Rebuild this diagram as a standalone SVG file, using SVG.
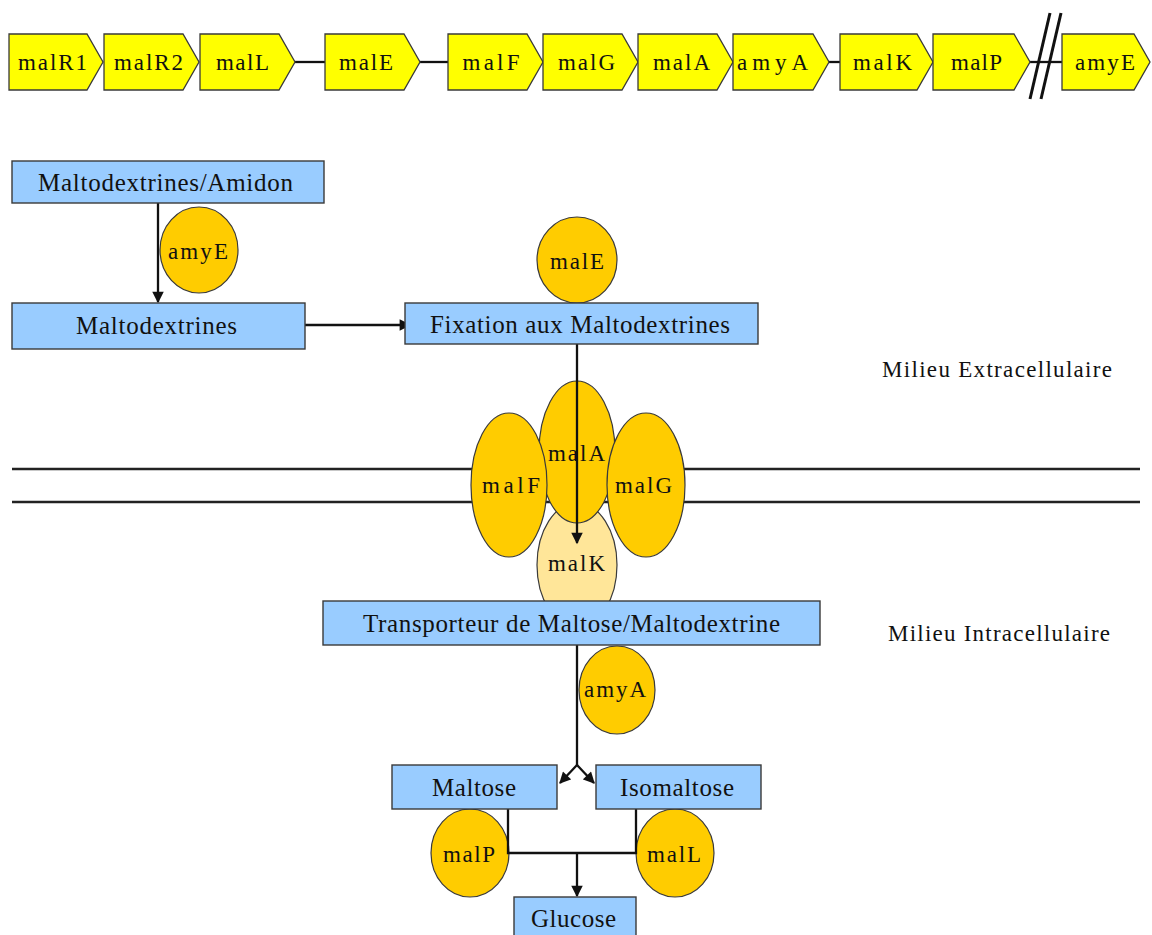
<svg xmlns="http://www.w3.org/2000/svg" width="1152" height="935" viewBox="0 0 1152 935">
  <style>
    .gene { fill: #FFFF00; stroke: #3a3a3a; stroke-width: 1.3; }
    .box { fill: #99CCFF; stroke: #3a3a3a; stroke-width: 1.4; }
    .enz { fill: #FFCC00; stroke: #3a3a3a; stroke-width: 1.2; }
    .enz-light { fill: #FFE699; stroke: #3a3a3a; stroke-width: 1.2; }
    .lbl { font-family: "Liberation Serif", "Times New Roman", serif; fill: #111; text-anchor: middle; }
    .g { font-size: 23px; }
    .b { font-size: 25px; }
    .e { font-size: 23px; }
    .m { font-size: 23px; }
    .wire { fill: none; stroke: #111; stroke-width: 2.3; }
    .arrow { fill: none; stroke: #111; stroke-width: 2.3; marker-end: url(#head); }
    .mem { stroke: #222; stroke-width: 2.6; }
  </style>
  <defs>
    <marker id="head" viewBox="0 0 10 10" refX="9" refY="5" markerWidth="5.5" markerHeight="5" orient="auto" markerUnits="strokeWidth">
      <path d="M0,0 L10,5 L0,10 z" fill="#111"/>
    </marker>
  </defs>

  <rect width="1152" height="935" fill="#ffffff"/>

  <!-- operon backbone -->
  <g id="operon-links">
    <line class="wire" x1="295" y1="62" x2="325" y2="62"/>
    <line class="wire" x1="420" y1="62" x2="448" y2="62"/>
    <line class="wire" x1="829" y1="62" x2="840" y2="62"/>
    <line class="wire" x1="1030" y1="62" x2="1062" y2="62"/>
    <line x1="1030" y1="99" x2="1050" y2="13" stroke="#111" stroke-width="3"/>
    <line x1="1041" y1="99" x2="1061" y2="13" stroke="#111" stroke-width="3"/>
  </g>

  <!-- genes -->
  <g id="gene-malR1"><polygon class="gene" points="9,34 87,34 103,62 87,90 9,90"/><text class="lbl g" x="52.5" y="70" textLength="69">malR1</text></g>
  <g id="gene-malR2"><polygon class="gene" points="104,34 183,34 199,62 183,90 104,90"/><text class="lbl g" x="148.5" y="70" textLength="69">malR2</text></g>
  <g id="gene-malL"><polygon class="gene" points="200,34 279,34 295,62 279,90 200,90"/><text class="lbl g" x="242.5" y="70" textLength="53">malL</text></g>
  <g id="gene-malE"><polygon class="gene" points="325,34 404,34 420,62 404,90 325,90"/><text class="lbl g" x="366" y="70" textLength="54">malE</text></g>
  <g id="gene-malF"><polygon class="gene" points="448,34 527,34 543,62 527,90 448,90"/><text class="lbl g" x="491" y="70" textLength="57">malF</text></g>
  <g id="gene-malG"><polygon class="gene" points="543,34 622,34 638,62 622,90 543,90"/><text class="lbl g" x="586.5" y="70" textLength="57">malG</text></g>
  <g id="gene-malA"><polygon class="gene" points="638,34 717,34 733,62 717,90 638,90"/><text class="lbl g" x="681.5" y="70" textLength="57">malA</text></g>
  <g id="gene-amyA"><polygon class="gene" points="733,34 813,34 829,62 813,90 733,90"/><text class="lbl g" x="772.5" y="70" textLength="71">amyA</text></g>
  <g id="gene-malK"><polygon class="gene" points="840,34 917,34 933,62 917,90 840,90"/><text class="lbl g" x="882.5" y="70" textLength="59">malK</text></g>
  <g id="gene-malP"><polygon class="gene" points="933,34 1014,34 1030,62 1014,90 933,90"/><text class="lbl g" x="976.5" y="70" textLength="51">malP</text></g>
  <g id="gene-amyE"><polygon class="gene" points="1062,34 1134,34 1150,62 1134,90 1062,90"/><text class="lbl g" x="1105" y="70" textLength="60">amyE</text></g>

  <!-- membrane -->
  <g id="membrane">
    <line class="mem" x1="12" y1="469" x2="1140" y2="469"/>
    <line class="mem" x1="12" y1="502" x2="1140" y2="502"/>
  </g>

  <!-- transporter complex -->
  <g id="enz-malK"><ellipse class="enz-light" cx="577" cy="565" rx="40" ry="62"/><text class="lbl e" x="576.5" y="571" textLength="57">malK</text></g>
  <g id="enz-malA"><ellipse class="enz" cx="577" cy="452" rx="38" ry="71"/><text class="lbl e" x="576.5" y="461" textLength="57">malA</text></g>
  <g id="enz-malF"><ellipse class="enz" cx="509" cy="485" rx="38" ry="72"/><text class="lbl e" x="511" y="493" textLength="58">malF</text></g>
  <g id="enz-malG"><ellipse class="enz" cx="646" cy="485" rx="39" ry="72"/><text class="lbl e" x="643.5" y="493" textLength="57">malG</text></g>

  <!-- other enzymes -->
  <g id="enz-amyE"><ellipse class="enz" cx="199" cy="250" rx="39" ry="43"/><text class="lbl e" x="198" y="259" textLength="60">amyE</text></g>
  <g id="enz-malE"><ellipse class="enz" cx="577" cy="260" rx="40" ry="43"/><text class="lbl e" x="577" y="269" textLength="54">malE</text></g>
  <g id="enz-amyA"><ellipse class="enz" cx="617" cy="690" rx="38" ry="44"/><text class="lbl e" x="615" y="697" textLength="62">amyA</text></g>
  <g id="enz-malP"><ellipse class="enz" cx="470" cy="853" rx="39" ry="44"/><text class="lbl e" x="469" y="862" textLength="52">malP</text></g>
  <g id="enz-malL"><ellipse class="enz" cx="675" cy="853" rx="39" ry="44"/><text class="lbl e" x="674" y="862" textLength="54">malL</text></g>

  <!-- connectors -->
  <g id="connectors">
    <line class="arrow" x1="158" y1="203" x2="158" y2="302"/>
    <line class="arrow" x1="305" y1="325" x2="410" y2="325"/>
    <line class="arrow" x1="577" y1="344" x2="577" y2="543"/>
    <polyline class="wire" points="577,645 577,765"/>
    <line class="arrow" x1="577" y1="765" x2="560" y2="783"/>
    <line class="arrow" x1="577" y1="765" x2="594" y2="783"/>
    <polyline class="wire" points="508,809 508,853 636,853 636,809"/>
    <line class="arrow" x1="577" y1="853" x2="577" y2="896"/>
  </g>

  <!-- metabolite boxes -->
  <g id="box-amidon"><rect class="box" x="12" y="161" width="312" height="42"/><text class="lbl b" x="165.5" y="191" textLength="255">Maltodextrines/Amidon</text></g>
  <g id="box-maltodextrines"><rect class="box" x="12" y="303" width="293" height="46"/><text class="lbl b" x="156.5" y="334" textLength="161">Maltodextrines</text></g>
  <g id="box-fixation"><rect class="box" x="405" y="303" width="353" height="41"/><text class="lbl b" x="580" y="333" textLength="300">Fixation aux Maltodextrines</text></g>
  <g id="box-transporteur"><rect class="box" x="323" y="601" width="497" height="44"/><text class="lbl b" x="571.5" y="632" textLength="417">Transporteur de Maltose/Maltodextrine</text></g>
  <g id="box-maltose"><rect class="box" x="392" y="765" width="165" height="44"/><text class="lbl b" x="474" y="796" textLength="84">Maltose</text></g>
  <g id="box-isomaltose"><rect class="box" x="596" y="765" width="165" height="44"/><text class="lbl b" x="677" y="796" textLength="114">Isomaltose</text></g>
  <g id="box-glucose"><rect class="box" x="514" y="897" width="122" height="44"/><text class="lbl b" x="573.5" y="927" textLength="85">Glucose</text></g>

  <!-- compartment labels -->
  <g id="label-extra"><text class="lbl m" x="997" y="377" textLength="230">Milieu Extracellulaire</text></g>
  <g id="label-intra"><text class="lbl m" x="999" y="641" textLength="222">Milieu Intracellulaire</text></g>
</svg>
